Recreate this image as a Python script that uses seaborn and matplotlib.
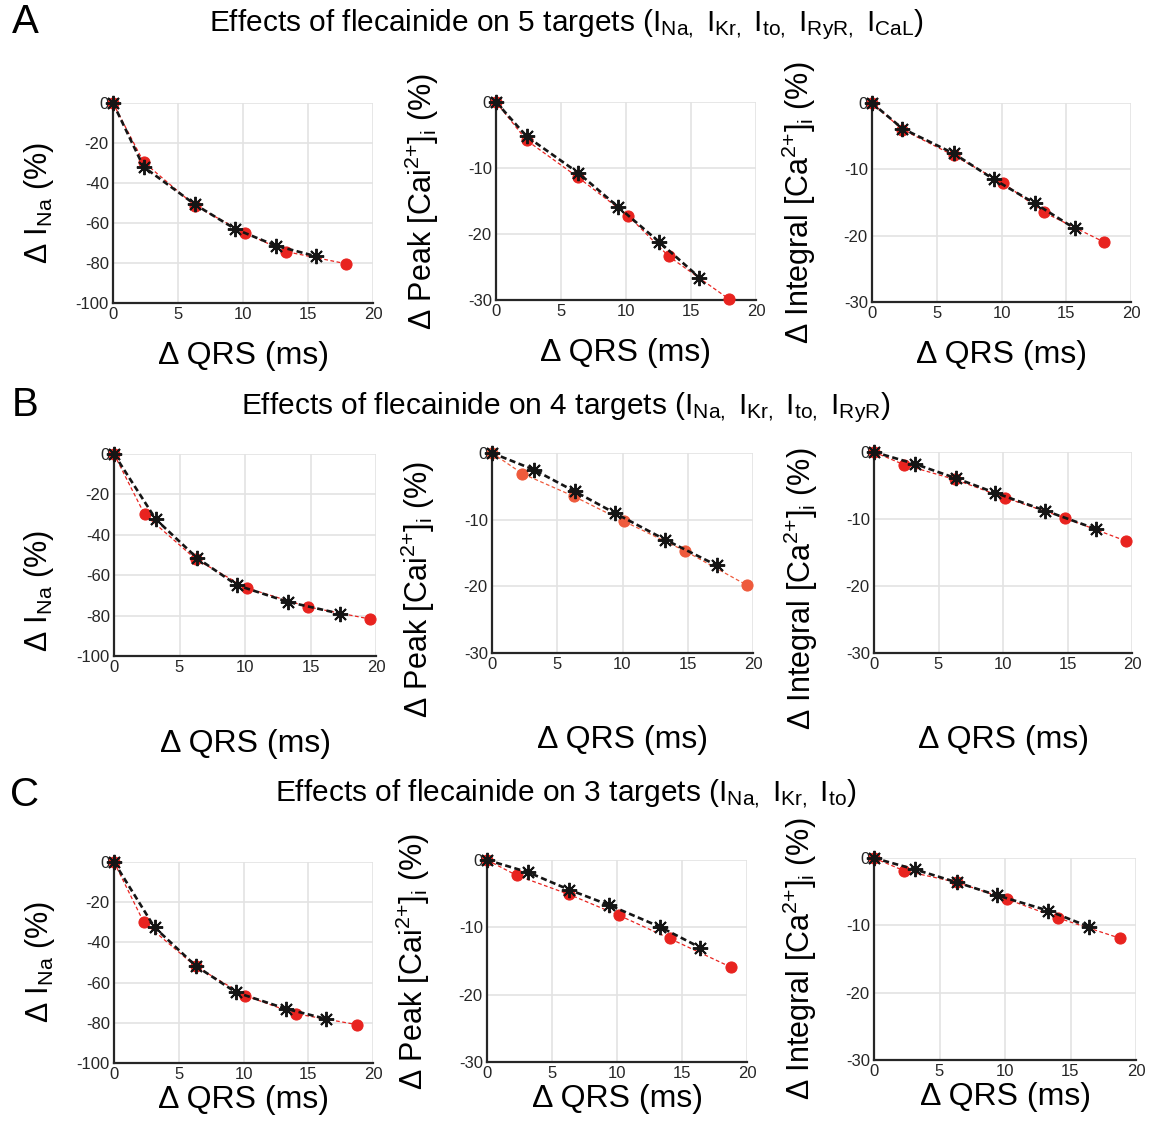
import numpy as np
import pandas as pd
import matplotlib
matplotlib.use("Agg")
import matplotlib.pyplot as plt
import seaborn as sns

# ---- data ----------------------------------------------------------------
# QRS prolongation (ms) for each row; red = model points, black = second series
qrs_red_A = [0, 2.35, 6.3, 10.15, 13.3, 17.95]
qrs_blk_A = [0, 2.35, 6.3, 9.4, 12.55, 15.65]
qrs_red_B = [0, 2.33, 6.27, 10.12, 14.8, 19.55]
qrs_blk_B = [0, 3.2, 6.33, 9.4, 13.27, 17.22]
qrs_red_C = [0, 2.3, 6.3, 10.13, 14.04, 18.75]
qrs_blk_C = [0, 3.13, 6.3, 9.4, 13.27, 16.4]

ina_red_A = [0, -29.5, -51.3, -65.0, -74.3, -80.4]
ina_blk_A = [0, -31.9, -50.7, -63.0, -71.4, -76.7]
peak_red_A = [0, -5.8, -11.4, -17.2, -23.4, -29.9]
peak_blk_A = [0, -5.2, -10.7, -15.9, -21.2, -26.6]
integ_red_A = [0, -4.0, -7.9, -12.1, -16.5, -21.0]
integ_blk_A = [0, -3.85, -7.6, -11.5, -15.1, -18.9]

ina_red_B = [0, -29.9, -52.2, -66.3, -75.7, -81.7]
ina_blk_B = [0, -32.4, -51.4, -65.0, -73.2, -79.0]
peak_red_B = [0, -3.1, -6.5, -10.25, -14.7, -19.85]
peak_blk_B = [0, -2.5, -5.75, -9.0, -13.0, -16.85]
integ_red_B = [0, -1.9, -4.1, -6.8, -9.85, -13.3]
integ_blk_B = [0, -1.8, -3.9, -6.1, -8.75, -11.5]

ina_red_C = [0, -30.0, -51.9, -66.5, -75.5, -80.9]
ina_blk_C = [0, -32.5, -51.6, -64.8, -73.0, -78.1]
peak_red_C = [0, -2.3, -5.1, -8.2, -11.65, -15.9]
peak_blk_C = [0, -1.8, -4.4, -6.7, -9.9, -13.0]
integ_red_C = [0, -1.9, -3.6, -6.1, -8.9, -11.9]
integ_blk_C = [0, -1.7, -3.6, -5.55, -7.8, -10.2]

x_ticks = [0, 5, 10, 15, 20]
ina_ticks = [0, -20, -40, -60, -80, -100]
ca_ticks = [0, -10, -20, -30]

titles = [
    r"Effects of flecainide on 5 targets (I$_{\mathregular{Na,}}$ I$_{\mathregular{Kr,}}$ "
    r"I$_{\mathregular{to,}}$ I$_{\mathregular{RyR,}}$ I$_{\mathregular{CaL}}$)",
    r"Effects of flecainide on 4 targets (I$_{\mathregular{Na,}}$ I$_{\mathregular{Kr,}}$ "
    r"I$_{\mathregular{to,}}$ I$_{\mathregular{RyR}}$)",
    r"Effects of flecainide on 3 targets (I$_{\mathregular{Na,}}$ I$_{\mathregular{Kr,}}$ "
    r"I$_{\mathregular{to}}$)",
]
letters = ["A", "B", "C"]

ylab_ina = r"Δ I$_{\mathregular{Na}}$ (%)"
ylab_peak = r"Δ Peak [Cai$^{\mathregular{2{+}}}$]$_{\mathregular{i}}$ (%)"
ylab_int = r"Δ Integral [Ca$^{\mathregular{2{+}}}$]$_{\mathregular{i}}$ (%)"
xlab = "Δ QRS (ms)"

# ---- style ---------------------------------------------------------------
sns.set_theme(style="whitegrid")
plt.rcParams["font.family"] = ["Liberation Sans", "DejaVu Sans"]
plt.rcParams["mathtext.fontset"] = "custom"
plt.rcParams["mathtext.rm"] = "Liberation Sans"
plt.rcParams["mathtext.it"] = "Liberation Sans"
plt.rcParams["axes.unicode_minus"] = False

RED = "#e8231f"
RED_B2 = "#ee5a3c"
BLK = "#151515"
AX = "#262626"

fig = plt.figure(figsize=(11.55, 11.3), dpi=100)
W, H = 1155, 1130

# pixel boxes (left, top, right, bottom) for each panel
boxes = [
    [(113, 103, 373, 303), (496, 102, 756, 300), (872, 103, 1131, 302)],
    [(114, 454, 376, 656), (492, 453, 753, 653), (874, 452, 1132, 653)],
    [(114, 862, 373, 1063), (487, 860, 747, 1062), (874, 858, 1136, 1060)],
]
xlab_off = [-0.19, -0.36, -0.11]
ylab_mid = [0.5, 0.32, 0.5]
title_y = [25, 408, 793]
letter_y = [22, 405, 795]

rows = [
    (qrs_red_A, qrs_blk_A, [(ina_red_A, ina_blk_A), (peak_red_A, peak_blk_A), (integ_red_A, integ_blk_A)]),
    (qrs_red_B, qrs_blk_B, [(ina_red_B, ina_blk_B), (peak_red_B, peak_blk_B), (integ_red_B, integ_blk_B)]),
    (qrs_red_C, qrs_blk_C, [(ina_red_C, ina_blk_C), (peak_red_C, peak_blk_C), (integ_red_C, integ_blk_C)]),
]
ylabels = [ylab_ina, ylab_peak, ylab_int]

for r, (xr, xb, panels) in enumerate(rows):
    for c, (yr, yb) in enumerate(panels):
        l, t, rr, b = boxes[r][c]
        ax = fig.add_axes([l / W, 1 - b / H, (rr - l) / W, (b - t) / H])
        red = RED_B2 if (r == 1 and c == 1) else RED
        sns.lineplot(x=xr, y=yr, ax=ax, color=red, lw=0.9, linestyle=(0, (3, 2)),
                     marker="o", markersize=8, markeredgecolor=red, sort=False,
                     estimator=None, zorder=3, clip_on=False)
        sns.lineplot(x=xb, y=yb, ax=ax, color=BLK, lw=1.9, linestyle=(0, (2.3, 1.3)),
                     marker=(8, 2, 0), markersize=11, markeredgewidth=1.4,
                     markeredgecolor=BLK, sort=False, estimator=None, zorder=4,
                     clip_on=False)
        ax.set_xlim(0, 20)
        ax.set_xticks(x_ticks)
        if c == 0:
            ax.set_ylim(-100, 0)
            ax.set_yticks(ina_ticks)
        else:
            ax.set_ylim(-30, 0)
            ax.set_yticks(ca_ticks)
        ax.grid(True, color="#e3e3e3", lw=1.2)
        for s in ["top", "right"]:
            ax.spines[s].set_visible(False)
        for s in ["left", "bottom"]:
            ax.spines[s].set_color(AX)
            ax.spines[s].set_linewidth(1.6)
        ax.tick_params(axis="both", labelsize=12, colors=AX, direction="in",
                       length=0, pad=3)
        ax.set_xlabel(xlab, fontsize=23, color="black")
        ax.xaxis.set_label_coords(0.5, xlab_off[r])
        ax.set_ylabel(ylabels[c], fontsize=22, color="black")
        ax.yaxis.set_label_coords(-0.21 if c else -0.22, ylab_mid[r])

    fig.text(566 / W, 1 - title_y[r] / H, titles[r], fontsize=21.5, color="black",
             ha="center", va="center")
    fig.text(25 / W, 1 - letter_y[r] / H, letters[r], fontsize=29, color="black",
             ha="center", va="center")

fig.savefig("out.png", dpi=100)
